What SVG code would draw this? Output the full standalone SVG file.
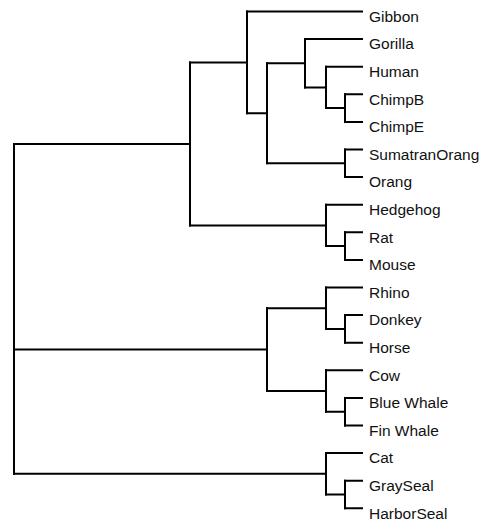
<svg xmlns="http://www.w3.org/2000/svg" width="485" height="521" viewBox="0 0 485 521">
<style>
.e{fill:none;stroke:#000;stroke-width:2;stroke-linecap:square;stroke-linejoin:miter}
.t{font-family:"Liberation Sans",Arial,sans-serif;font-size:15.5px;fill:#111}
</style>
<rect width="485" height="521" fill="#fff"/>
<g id="connectors">
<path class="e" d="M14 143.9V473.8"/>
<path class="e" d="M14 143.9H190M190 62.4V225.4"/>
<path class="e" d="M190 62.4H247M247 11.5V113.3"/>
<path class="e" d="M247 11.5H362"/>
<path class="e" d="M247 113.3H267M267 63.25V163.3"/>
<path class="e" d="M267 63.25H305M305 39.1V87.4"/>
<path class="e" d="M305 39.1H362"/>
<path class="e" d="M305 87.4H326M326 66.7V108.1"/>
<path class="e" d="M326 66.7H362"/>
<path class="e" d="M326 108.1H345M345 94.3V121.9"/>
<path class="e" d="M345 94.3H362M345 121.9H362"/>
<path class="e" d="M267 163.3H345M345 149.5V177.1"/>
<path class="e" d="M345 149.5H362M345 177.1H362"/>
<path class="e" d="M190 225.4H326M326 204.7V246.1"/>
<path class="e" d="M326 204.7H362"/>
<path class="e" d="M326 246.1H345M345 232.3V259.9"/>
<path class="e" d="M345 232.3H362M345 259.9H362"/>
<path class="e" d="M14 349.6H267M267 308.2V391"/>
<path class="e" d="M267 308.2H326M326 287.5V328.9"/>
<path class="e" d="M326 287.5H362"/>
<path class="e" d="M326 328.9H345M345 315.1V342.7"/>
<path class="e" d="M345 315.1H362M345 342.7H362"/>
<path class="e" d="M267 391H326M326 370.3V411.7"/>
<path class="e" d="M326 370.3H362"/>
<path class="e" d="M326 411.7H345M345 397.9V425.5"/>
<path class="e" d="M345 397.9H362M345 425.5H362"/>
<path class="e" d="M14 473.8H326M326 453.1V494.5"/>
<path class="e" d="M326 453.1H362"/>
<path class="e" d="M326 494.5H345M345 480.7V508.3"/>
<path class="e" d="M345 480.7H362M345 508.3H362"/>
</g>
<g id="gibbon"><text class="t" x="369" y="21.7">Gibbon</text></g>
<g id="gorilla"><text class="t" x="369" y="49.3">Gorilla</text></g>
<g id="human"><text class="t" x="369" y="76.9">Human</text></g>
<g id="chimpb"><text class="t" x="369" y="104.5">ChimpB</text></g>
<g id="chimpe"><text class="t" x="369" y="132.1">ChimpE</text></g>
<g id="sumatranorang"><text class="t" x="369" y="159.7">SumatranOrang</text></g>
<g id="orang"><text class="t" x="369" y="187.3">Orang</text></g>
<g id="hedgehog"><text class="t" x="369" y="214.9">Hedgehog</text></g>
<g id="rat"><text class="t" x="369" y="242.5">Rat</text></g>
<g id="mouse"><text class="t" x="369" y="270.1">Mouse</text></g>
<g id="rhino"><text class="t" x="369" y="297.7">Rhino</text></g>
<g id="donkey"><text class="t" x="369" y="325.3">Donkey</text></g>
<g id="horse"><text class="t" x="369" y="352.9">Horse</text></g>
<g id="cow"><text class="t" x="369" y="380.5">Cow</text></g>
<g id="bluewhale"><text class="t" x="369" y="408.1">Blue Whale</text></g>
<g id="finwhale"><text class="t" x="369" y="435.7">Fin Whale</text></g>
<g id="cat"><text class="t" x="369" y="463.3">Cat</text></g>
<g id="grayseal"><text class="t" x="369" y="490.9">GraySeal</text></g>
<g id="harborseal"><text class="t" x="369" y="518.5">HarborSeal</text></g>
</svg>
